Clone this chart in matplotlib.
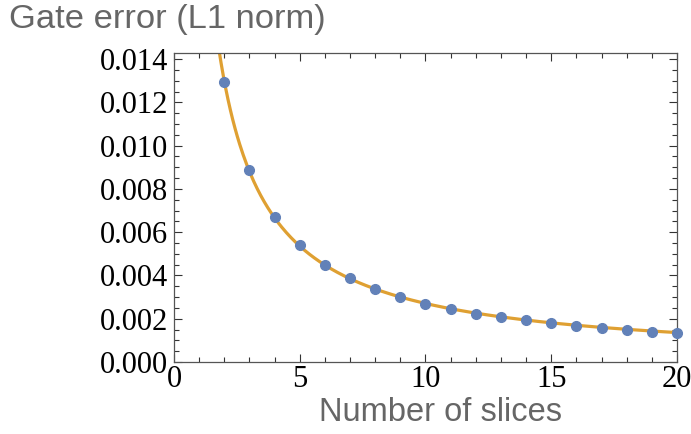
import numpy as np
import matplotlib.pyplot as plt
from matplotlib.ticker import MultipleLocator, FormatStrFormatter

# measured gate error per number of slices
slices = [2, 3, 4, 5, 6, 7, 8, 9, 10, 11, 12, 13, 14, 15, 16, 17, 18, 19, 20]
gate_error = [0.01295, 0.00885, 0.0067, 0.0054, 0.00448, 0.00388, 0.00337,
              0.00299, 0.00268, 0.00243, 0.00223, 0.00208, 0.00193, 0.00179,
              0.00168, 0.00156, 0.00148, 0.0014, 0.00133]

x_ticks = [0, 5, 10, 15, 20]
y_ticks = [0.000, 0.002, 0.004, 0.006, 0.008, 0.010, 0.012, 0.014]

# least-squares fit a/n + b/n^2 to the points
n = np.array(slices, dtype=float)
A = np.column_stack([1 / n, 1 / n**2])
coef, *_ = np.linalg.lstsq(A, np.array(gate_error), rcond=None)
n_fit = np.linspace(1.5, 20, 400)
err_fit = coef[0] / n_fit + coef[1] / n_fit**2

fig = plt.figure(figsize=(6.91, 4.34), dpi=100)
ax = fig.add_axes([0.2518, 0.1659, 0.7279, 0.712])

ax.plot(n_fit, err_fit, color='#DFA032', lw=2.3, zorder=2)
ax.plot(slices, gate_error, 'o', color='#6281B8', ms=7, zorder=3, clip_on=False)

ax.set_xlim(0, 20)
ax.set_ylim(0, 0.01428)
ax.set_xticks(x_ticks)
ax.set_yticks(y_ticks)
ax.xaxis.set_minor_locator(MultipleLocator(1))
ax.yaxis.set_minor_locator(MultipleLocator(0.0005))
ax.yaxis.set_major_formatter(FormatStrFormatter('%.3f'))

ax.tick_params(which='both', direction='in', top=True, right=True,
               color='#333333', width=0.8)
ax.tick_params(which='major', length=6, labelsize=22, pad=4)
ax.tick_params(axis='x', which='major', pad=2)
ax.tick_params(which='minor', length=3.5)
for lab in ax.get_xticklabels() + ax.get_yticklabels():
    lab.set_fontfamily('Liberation Serif')
for sp in ax.spines.values():
    sp.set_color('#555555')
    sp.set_linewidth(0.9)

fig.text(0.013, 0.9355, 'Gate error (L1 norm)', fontsize=24.8, color='#666666',
         family='Liberation Sans', ha='left', va='baseline')
fig.text(0.637, 0.031, 'Number of slices', fontsize=23.5, color='#666666',
         family='Liberation Sans', ha='center', va='baseline')

fig.savefig('out.png', dpi=100)
